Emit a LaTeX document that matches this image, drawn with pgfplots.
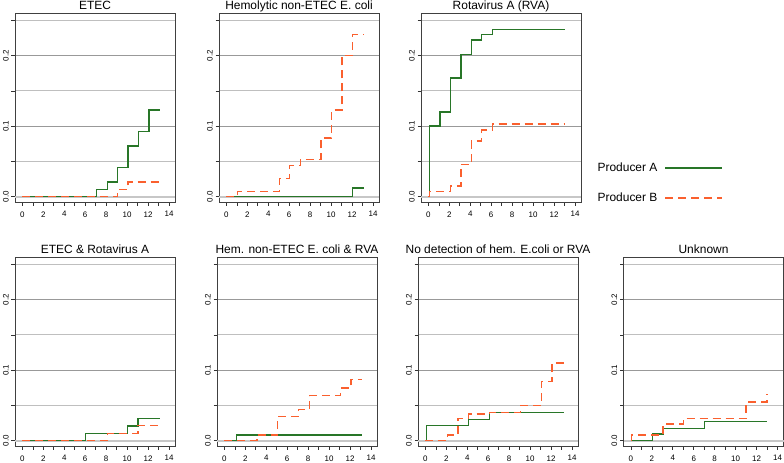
\documentclass[border=0pt]{standalone}
\usepackage{fontspec}
\setmainfont{Liberation Sans}
\usepackage{pgfplots}
\pgfplotsset{compat=1.18}
\definecolor{prodA}{RGB}{40,118,40}
\definecolor{prodB}{RGB}{250,96,46}
\pgfplotsset{
  panel/.style={
    scale only axis, width=160bp, height=189bp, anchor=south west,
    xmin=-0.7, xmax=14.57, ymin=-0.008, ymax=0.26,
    xtick={0,2,...,14}, minor xtick={1,3,...,13},
    xticklabels={0,2,4,6,8,10,12,14},
    ytick={0.1,0.2}, yticklabels={0.1,0.2},
    minor ytick={0.05,0.15,0.25},
    extra y ticks={0}, extra y tick labels={0.0},
    extra y tick style={major grid style={draw=black!22, line width=2.2bp}},
    ymajorgrids, yminorgrids,
    major grid style={draw=black!40, line width=1.1bp},
    minor grid style={draw=black!25, line width=0.9bp},
    tick align=outside, major tick length=3.5bp, minor tick length=3.5bp,
    xtick pos=bottom, ytick pos=left,
    every tick/.style={black!80, line width=0.6bp},
    axis line style={black!75, line width=0.8bp},
    /pgf/number format/assume math mode=true,
    tick label style={font=\fontsize{8}{9}\selectfont},
    yticklabel style={rotate=90, anchor=south, inner sep=2.5bp},
    xticklabel style={inner sep=1bp, yshift=-4.5bp},
    title style={font=\fontsize{12}{14}\selectfont, anchor=base, at={(0.5,1)}, yshift=-2bp},
    every axis plot/.append style={const plot},
  },
  pA/.style={color=prodA, line width=1.4bp},
  pB/.style={color=prodB, line width=1.4bp, dash pattern=on 8bp off 5bp},
}
\begin{document}
\begin{tikzpicture}[x=1bp,y=1bp]
\useasboundingbox (0,0) rectangle (784,463);
% ---- top row
\begin{axis}[panel, at={(15bp,260.7bp)}, title={ETEC}]
\addplot[pA] coordinates {(0,0) (7.1,0.010) (8.1,0.021) (9.1,0.041) (10.1,0.072) (11.1,0.092) (12.1,0.123) (13.1,0.123)};
\addplot[pB] coordinates {(0,0) (9.1,0.010) (10.1,0.021) (13.1,0.021)};
\end{axis}
\begin{axis}[panel, at={(219bp,260.7bp)}, title={Hemolytic non-ETEC E. coli}]
\addplot[pA] coordinates {(0,0) (12.05,0.012) (13.1,0.012)};
\addplot[pB] coordinates {(0,0) (1.05,0.007) (5.05,0.026) (6.05,0.0445) (7.05,0.053) (9.05,0.083) (10.05,0.123) (11.05,0.200) (12.05,0.230) (13.1,0.230)};
\end{axis}
\begin{axis}[panel, at={(421bp,260.7bp)}, title={Rotavirus A (RVA)},
  legend plot pos=right,
  legend style={at={(1.09,0.102)}, anchor=west, draw=none, fill=none,
    font=\fontsize{12}{14}\selectfont, row sep=16bp, column sep=5bp, inner sep=0pt,
    nodes={inner sep=2bp}},
  legend image code/.code={\draw[#1] (0bp,0bp) -- (57bp,0bp);}]
\addplot[pA] coordinates {(0,0) (0.1,0.100) (1.1,0.120) (2.1,0.168) (3.1,0.2015) (4.1,0.222) (5.1,0.230) (6.1,0.237) (13.0,0.237)};
\addlegendentry{Producer A}
\addplot[pB] coordinates {(0,0) (0.1,0.007) (2.1,0.015) (3.1,0.046) (4.1,0.079) (5.1,0.0945) (6.1,0.103) (13.0,0.103)};
\addlegendentry{Producer B}
\end{axis}
% ---- bottom row
\begin{axis}[panel, at={(15bp,16.7bp)}, title={ETEC \& Rotavirus A}]
\addplot[pA] coordinates {(0,0) (6.05,0.0104) (10.05,0.0208) (11.05,0.0316) (13.1,0.0316)};
\addplot[pB] coordinates {(0,0) (8.1,0.0104) (11.05,0.0217) (13.1,0.0217)};
\end{axis}
\begin{axis}[panel, at={(217bp,16.7bp)}, title={Hem. non-ETEC E. coli \& RVA}]
\addplot[pA] coordinates {(0,0) (1.15,0.008) (13.1,0.008)};
\addplot[pB] coordinates {(0,0) (3.1,0.008) (5.1,0.0344) (7.1,0.0443) (8.1,0.064) (11.1,0.0745) (12.1,0.087) (13.1,0.087)};
\end{axis}
\begin{axis}[panel, at={(418bp,16.7bp)}, title={No detection of hem. E.coli or RVA}]
\addplot[pA] coordinates {(0,0) (0.1,0.0217) (4.1,0.0297) (6.1,0.0396) (13.2,0.0396)};
\addplot[pB] coordinates {(0,0) (2.1,0.008) (3.1,0.0316) (4.1,0.038) (6.1,0.0396) (9.1,0.050) (11.1,0.084) (12.1,0.110) (13.2,0.110)};
\end{axis}
\begin{axis}[panel, at={(623.5bp,16.7bp)}, title={Unknown}]
\addplot[pA] coordinates {(0,0) (2.07,0.0094) (3.06,0.0175) (7.05,0.0274) (13.0,0.0274)};
\addplot[pB] coordinates {(0,0) (0.06,0.008) (3.06,0.0236) (5.04,0.0316) (11.0,0.0547) (13.0,0.066) (13.0,0.066)};
\end{axis}
\end{tikzpicture}
\end{document}
